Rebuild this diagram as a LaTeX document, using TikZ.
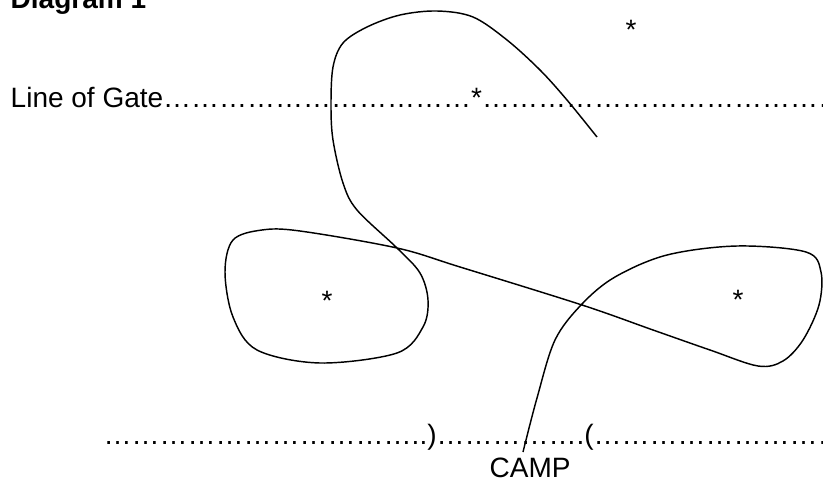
\documentclass[tikz,border=0pt]{standalone}
\usepackage{fontspec}
\setmainfont{Liberation Sans}
\newcommand{\dotrun}[1]{\foreach \k in {1,...,#1}{…}}

\begin{document}
\begin{tikzpicture}[x=1pt, y=-1pt, line width=1.45pt,
        txt/.style = {inner sep=0pt, font=\fontsize{28}{34}\selectfont},
        mark star/.style = {txt, anchor=base}]
        \useasboundingbox (0,0) rectangle (823,479);
        \node[txt, anchor=base west, font=\fontsize{28}{34}\selectfont\bfseries] (title) at (10,9) {Diagram 1};
        \node[txt, anchor=base west] (gate) at (10,107) {Line of Gate\dotrun{11}*\dotrun{13}};
        \node[txt, anchor=base west] (road) at (103,444) {\dotrun{11}..)\dotrun{5}.(\dotrun{9}};
        \node[txt, anchor=base west] (camp) at (489,477) {CAMP};
        \node[mark star] (s1) at (631,39) {*};
        \node[mark star] (s2) at (327,310) {*};
        \node[mark star] (s3) at (738,309) {*};
        % the walked route
        \draw plot[smooth, tension=0.55] coordinates {
            (523,452) (537,398) (555,340) (582,304) (615,277) (667,255) (737,246)
            (806,252) (821,272) (819,305) (803,340) (783,361) (758,366)
            (710,350) (653,330) (582,305) (460,267) (397,248) (300,231) (262,230)
            (233,240) (225,272) (233,317) (257,350) (320,363) (397,353) (423,327)
            (428,300) (420,273) (397,248) (357,210) (343,183) (333,140) (331,105)
            (333,67) (343,43) (367,27) (400,15) (437,11) (473,17) (507,40)
            (540,70) (567,100) (597,137)};
    \end{tikzpicture}
\end{document}
